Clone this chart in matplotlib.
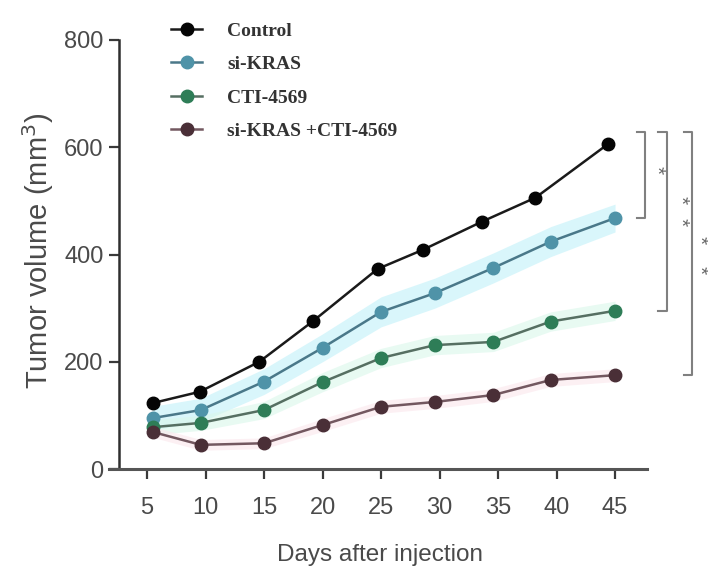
import matplotlib
matplotlib.use("Agg")
import matplotlib.pyplot as plt

# ---- data ----
days = [5.5, 9.6, 15, 20, 25, 29.6, 34.6, 39.5, 45]
control_days = [5.5, 9.5, 14.6, 19.2, 24.7, 28.6, 33.6, 38.2, 44.4]

control = [123, 144, 200, 276, 373, 409, 461, 506, 606]
si_kras = [95, 110, 163, 226, 293, 328, 375, 424, 468]
cti = [78, 86, 110, 162, 207, 231, 237, 275, 295]
combo = [69, 45, 48, 82, 116, 125, 138, 166, 175]

si_kras_err = [22, 22, 24, 26, 28, 28, 28, 28, 26]
cti_err = [14, 14, 16, 18, 18, 18, 18, 18, 18]
combo_err = [10, 10, 10, 12, 12, 12, 12, 12, 12]

labels = ["Control", "si-KRAS", "CTI-4569", "si-KRAS +CTI-4569"]
xticks = [5, 10, 15, 20, 25, 30, 35, 40, 45]
yticks = [0, 200, 400, 600, 800]

# significance brackets: bottom = last value of compared series; star y-positions
brackets = [
    (si_kras[-1], [558]),
    (cti[-1], [502, 461]),
    (combo[-1], [427, 371]),
]

plt.rcParams['font.family'] = ['Liberation Sans', 'DejaVu Sans']

W, H = 708, 571
fig = plt.figure(figsize=(W / 100, H / 100), dpi=100)
ax = fig.add_axes([109 / W, 1 - 469 / H, (647 - 109) / W, (469 - 40) / H])

ax.set_xlim(1.75, 47.73)
ax.set_ylim(0, 800)

# error shading
ax.fill_between(days, [v - e for v, e in zip(si_kras, si_kras_err)],
                [v + e for v, e in zip(si_kras, si_kras_err)],
                color='#c9f3fa', alpha=0.7, lw=0, zorder=1)
ax.fill_between(days, [v - e for v, e in zip(cti, cti_err)],
                [v + e for v, e in zip(cti, cti_err)],
                color='#d9f7ea', alpha=0.6, lw=0, zorder=1)
ax.fill_between(days, [v - e for v, e in zip(combo, combo_err)],
                [v + e for v, e in zip(combo, combo_err)],
                color='#fbe6ec', alpha=0.6, lw=0, zorder=1)

series = [
    (control_days, control, '#1a1a1a', '#050505'),
    (days, si_kras, '#4a7889', '#4f93a8'),
    (days, cti, '#566f62', '#2e7d57'),
    (days, combo, '#735860', '#4a2f37'),
]
handles = []
for (xs, ys, lc, mc), lab in zip(series, labels):
    h, = ax.plot(xs, ys, '-', color=lc, lw=1.8, marker='o', ms=9,
                 mfc=mc, mec=mc, label=lab, zorder=3)
    handles.append(h)

# axes styling
for s in ['top', 'right']:
    ax.spines[s].set_visible(False)
ax.spines['left'].set_position(('data', 2.6))
ax.spines['left'].set_linewidth(1.8)
ax.spines['left'].set_color('#2f2f2f')
ax.spines['bottom'].set_linewidth(2.2)
ax.spines['bottom'].set_color('#555555')

ax.set_xticks(xticks)
ax.set_yticks(yticks)
ax.tick_params(axis='both', direction='out', length=7, width=1.6,
               color='#3a3a3a', labelsize=17, labelcolor='#4a4a4a')
ax.tick_params(axis='y', pad=4)
ax.tick_params(axis='x', pad=13)

ax.set_xlabel("Days after injection", fontsize=17.5, color='#4a4a4a')
ax.xaxis.set_label_coords((380 - 109) / 538, (469 - 555) / 429)
ax.xaxis.label.set_va('center')
ax.set_ylabel("Tumor volume (mm$^3$)", fontsize=21, color='#4a4a4a')
ax.yaxis.set_label_coords((38 - 109) / 538, (469 - 251) / 429)
ax.yaxis.label.set_va('center')

# legend
leg = ax.legend(handles=handles, loc='upper left',
                bbox_to_anchor=(171 / W, 1 - 22 / H), bbox_transform=fig.transFigure,
                frameon=False, borderpad=0, borderaxespad=0,
                handlelength=1.6, handletextpad=1.3, labelspacing=0.82,
                prop={'family': ['Liberation Serif', 'DejaVu Serif'],
                      'weight': 'bold', 'size': 14})
for t in leg.get_texts():
    t.set_color('#333333')

# significance brackets
top = control[-1] + 22
bx = [47.6, 49.4, 51.6]
hook = 0.7
star_x = [48.5, 50.6, 52.2]
for (bottom, stars), x, sx in zip(brackets, bx, star_x):
    ax.plot([x - hook, x, x, x - hook], [top, top, bottom, bottom],
            color='#808080', lw=1.5, clip_on=False, zorder=2)
    for sy in stars:
        ax.text(sx, sy, "*", rotation=270, fontsize=15, color='#6a6a6a',
                ha='center', va='center', clip_on=False)

fig.savefig("out.png", dpi=100)
